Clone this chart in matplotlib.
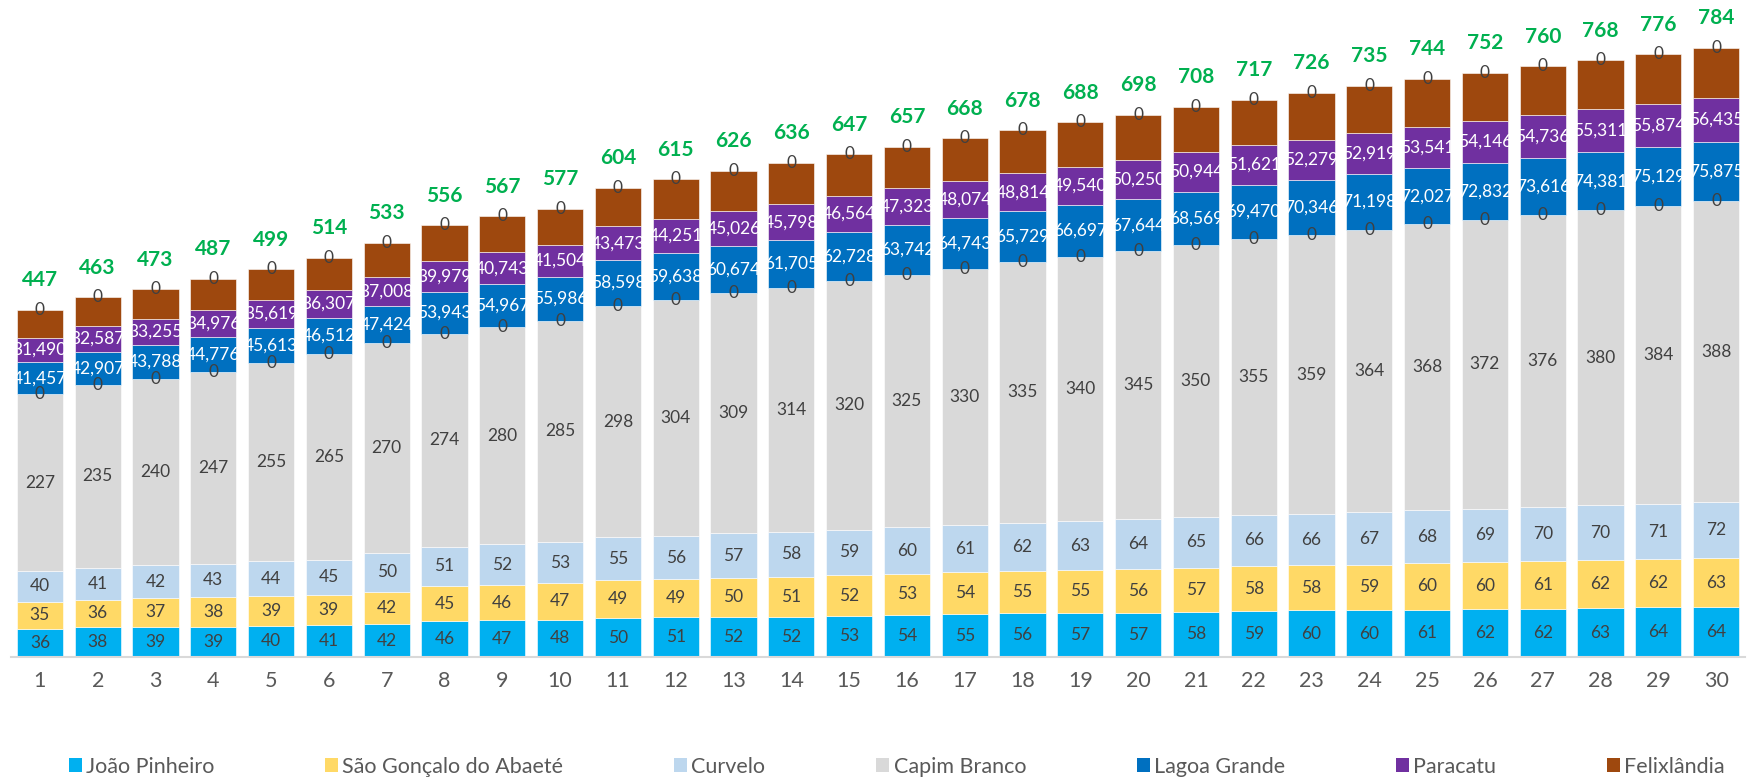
import matplotlib
matplotlib.use('Agg')
import matplotlib.pyplot as plt
from matplotlib.patches import Patch
import numpy as np

plt.rcParams['font.family'] = ['Lato', 'DejaVu Sans']

periods = list(range(1, 31))

joao_pinheiro = [36, 38, 39, 39, 40, 41, 42, 46, 47, 48, 50, 51, 52, 52, 53,
                 54, 55, 56, 57, 57, 58, 59, 60, 60, 61, 62, 62, 63, 64, 64]
sao_goncalo = [35, 36, 37, 38, 39, 39, 42, 45, 46, 47, 49, 49, 50, 51, 52,
               53, 54, 55, 55, 56, 57, 58, 58, 59, 60, 60, 61, 62, 62, 63]
curvelo = [40, 41, 42, 43, 44, 45, 50, 51, 52, 53, 55, 56, 57, 58, 59,
           60, 61, 62, 63, 64, 65, 66, 66, 67, 68, 69, 70, 70, 71, 72]
capim_branco = [227, 235, 240, 247, 255, 265, 270, 274, 280, 285, 298, 304, 309, 314, 320,
                325, 330, 335, 340, 345, 350, 355, 359, 364, 368, 372, 376, 380, 384, 388]
lagoa_grande = [41.457, 42.907, 43.788, 44.776, 45.613, 46.512, 47.424, 53.943, 54.967, 55.986,
                58.598, 59.638, 60.674, 61.705, 62.728, 63.742, 64.743, 65.729, 66.697, 67.644,
                68.569, 69.470, 70.346, 71.198, 72.027, 72.832, 73.616, 74.381, 75.129, 75.875]
paracatu = [31.490, 32.587, 33.255, 34.976, 35.619, 36.307, 37.008, 39.979, 40.743, 41.504,
            43.473, 44.251, 45.026, 45.798, 46.564, 47.323, 48.074, 48.814, 49.540, 50.250,
            50.944, 51.621, 52.279, 52.919, 53.541, 54.146, 54.736, 55.311, 55.874, 56.435]
totals = [447, 463, 473, 487, 499, 514, 533, 556, 567, 577, 604, 615, 626, 636, 647,
          657, 668, 678, 688, 698, 708, 717, 726, 735, 744, 752, 760, 768, 776, 784]
# Felixlândia segment = total label minus the labelled segments below it
felixlandia = [t - (a + b + c + d + e + f) for t, a, b, c, d, e, f in
               zip(totals, joao_pinheiro, sao_goncalo, curvelo, capim_branco, lagoa_grande, paracatu)]
zero_series = [0] * len(periods)

names = ['João Pinheiro', 'São Gonçalo do Abaeté', 'Curvelo', 'Capim Branco',
         'Lagoa Grande', 'Paracatu', 'Felixlândia']
colors = ['#00B0F0', '#FFD966', '#BDD7EE', '#D9D9D9', '#0070C0', '#7030A0', '#9E480E']

W, H = 1750, 779
fig = plt.figure(figsize=(W / 100, H / 100), dpi=100)
base_px, top_px, left_px, right_px = 657, 10, 11, 1745
ax = fig.add_axes([left_px / W, (H - base_px) / H, (right_px - left_px) / W, (base_px - top_px) / H])

x = np.array(periods)
bw = 0.8
bottom = np.zeros(len(periods))
dark = '#404040'

def fmt_int(v):
    return f'{v:.0f}'

def fmt_dec(v):
    return f'{v:.3f}'.replace('.', ',')

series = [
    (joao_pinheiro, 0, fmt_int, dark),
    (sao_goncalo, 1, fmt_int, dark),
    (curvelo, 2, fmt_int, dark),
    (capim_branco, 3, fmt_int, dark),
    (zero_series, None, fmt_int, dark),
    (lagoa_grande, 4, fmt_dec, 'white'),
    (paracatu, 5, fmt_dec, 'white'),
    (felixlandia, 6, None, None),
    (zero_series, None, fmt_int, dark),
]

last = None
for vals, ci, fmt, tcol in series:
    vals = np.array(vals, dtype=float)
    if ci is None:
        cont = ax.bar(x, vals, bw, bottom=bottom, color='none', linewidth=0)
    else:
        cont = ax.bar(x, vals, bw, bottom=bottom, color=colors[ci],
                      edgecolor='white', linewidth=0.4)
    if fmt is not None:
        ax.bar_label(cont, labels=[fmt(v) for v in vals], label_type='center',
                     color=tcol, fontsize=12.5)
    bottom = bottom + vals
    last = cont

ax.bar_label(last, labels=[str(t) for t in totals], label_type='edge', padding=14,
             color='#00B050', fontsize=15, fontweight='bold')

ax.set_xlim(0.5, 30.5)
ax.set_ylim(0, (base_px - top_px) / 0.777)
ax.set_xticks(x)
ax.set_xticklabels([str(p) for p in periods])
ax.tick_params(axis='x', length=0, pad=10, labelsize=15.5, labelcolor='#595959')
ax.set_yticks([])
for s in ['top', 'right', 'left']:
    ax.spines[s].set_visible(False)
ax.spines['bottom'].set_color('#D9D9D9')
ax.spines['bottom'].set_linewidth(1.5)

handles = [Patch(facecolor=c, edgecolor='none') for c in colors]
fig.legend(handles, names, loc='center', bbox_to_anchor=(0.5125, 0.016), ncol=7,
           frameon=False, fontsize=15.5, handlelength=0.6, handleheight=0.6,
           handletextpad=0.2, columnspacing=5.15, labelcolor='#595959')

fig.savefig('out.png', dpi=100)
